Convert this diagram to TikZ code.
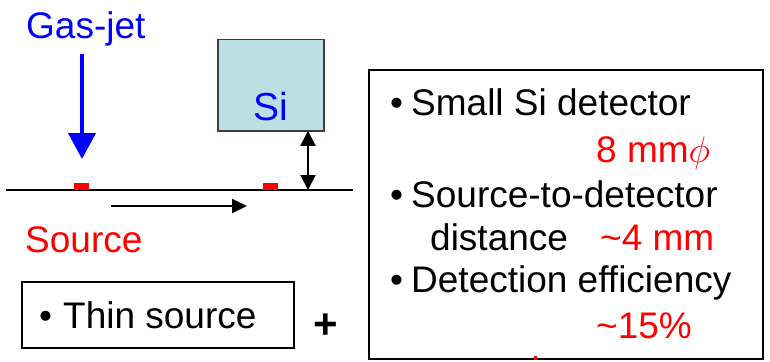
\RequirePackage{fix-cm}
\documentclass[tikz,border=0pt]{standalone}
\usepackage{fontspec}
\setmainfont{Liberation Sans}
\usetikzlibrary{arrows.meta}
\definecolor{sifill}{RGB}{187,224,227}
\definecolor{siedge}{RGB}{60,60,60}
\begin{document}
\begin{tikzpicture}[x=1pt,y=-1pt,
  txt/.style={inner sep=0pt,anchor=base west,font=\fontsize{37}{44}\selectfont},
  redtxt/.style={txt,text=red},
  frame/.style={draw=black,line width=1.5pt,fill=white},
  srcmark/.style={fill=red,draw=none},
  thinline/.style={line width=2pt}]
\useasboundingbox (0,0) rectangle (770,361);
% Gas-jet
\node[txt,text=blue] (gasjet) at (26,39) {Gas-jet};
\coordinate (jetTop) at (82,54);
\coordinate (jetTip) at (82,159);
\draw[blue,line width=4pt,-{Triangle[width=27pt,length=26pt]}] (jetTop) -- (jetTip);
% base line
\coordinate (lineL) at (6,190);
\coordinate (lineR) at (353,190);
\draw[thinline] (lineL) -- (lineR);
% source marks
\path[srcmark] (74,183) rectangle (89,190);
\path[srcmark] (263,183) rectangle (278,190);
% Si detector
\node[draw=siedge,fill=sifill,line width=1.5pt,minimum width=106pt,minimum height=91pt,inner sep=0pt,anchor=north west] (si) at (217,39) {};
\node[txt,text=blue,anchor=base,font=\fontsize{39}{46}\selectfont] (silabel) at (271,120) {Si};
% distance arrow
\coordinate (distTop) at (308,130.8);
\coordinate (distBot) at (308,190);
\draw[thinline,{Triangle[width=15pt,length=15pt]}-{Triangle[width=15pt,length=15pt]}] (distTop) -- (distBot);
% motion arrow
\coordinate (moveL) at (111,206);
\coordinate (moveR) at (247,206);
\draw[thinline,-{Triangle[width=14pt,length=15pt]}] (moveL) -- (moveR);
% Source label
\node[redtxt] (source) at (25,252) {Source};
% Thin source box
\node[frame,minimum width=272pt,minimum height=66pt,inner sep=0pt,anchor=north west] (thinbox) at (21,281) {};
\node[txt] (b0) at (39,328) {\textbullet};
\node[txt] (thin) at (63,328) {Thin source};
% plus
\node[inner sep=0pt,font=\fontsize{42}{48}\selectfont\bfseries] (plus) at (326,326) {+};
% right box
\node[frame,minimum width=394pt,minimum height=289pt,inner sep=0pt,anchor=north west] (infobox) at (368,69) {};
\path[fill=red] (534,356) rectangle (537,360);
\node[txt] (b1) at (390,115) {\textbullet};
\node[txt] (l1) at (411,115) {Small Si detector};
\node[redtxt] (l2) at (596,162) {8 mm$\phi$};
\node[txt] (b2) at (390,207) {\textbullet};
\node[txt] (l3) at (411,207) {Source-to-detector};
\node[txt] (l4) at (430,250) {distance};
\node[redtxt] (l5) at (600,250) {\textasciitilde 4 mm};
\node[txt] (b3) at (390,292) {\textbullet};
\node[txt] (l6) at (411,292) {Detection efficiency};
\node[redtxt] (l7) at (596,338) {\textasciitilde 15\%};
\end{tikzpicture}
\end{document}
